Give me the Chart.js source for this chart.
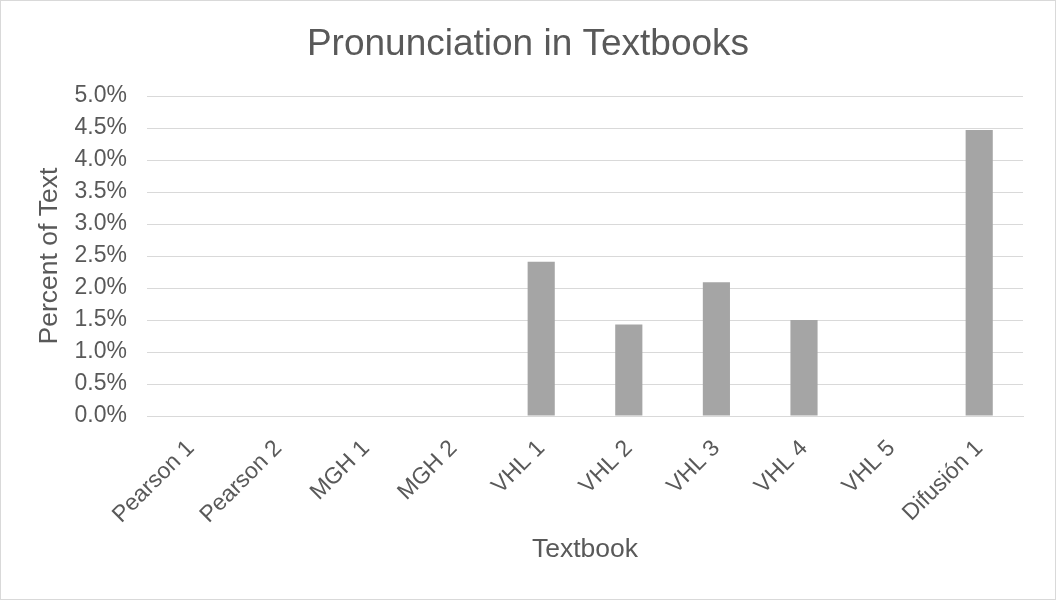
<!DOCTYPE html>
<html>
<head>
<meta charset="utf-8">
<title>Pronunciation in Textbooks</title>
<script src="https://cdn.jsdelivr.net/npm/chart.js@4.4.1/dist/chart.umd.min.js"></script>
<style>
    html, body { margin: 0; padding: 0; background: #ffffff; }
    #wrap { width: 1056px; height: 600px; position: relative; }
</style>
</head>
<body>
<div id="wrap"><canvas id="myChart"></canvas></div>
<script>
// Textbook categories along the x axis
const textbooks = ["Pearson 1", "Pearson 2", "MGH 1", "MGH 2", "VHL 1", "VHL 2", "VHL 3", "VHL 4", "VHL 5", "Difusión 1"];

// Share of each textbook spent on pronunciation, in percent
const percentOfText = [0, 0, 0, 0, 2.41, 1.43, 2.09, 1.50, 0, 4.47];

// y axis range and step, in percent
const yMin = 0;
const yMax = 5;
const yStep = 0.5;

const textColor = "#595959";
const gridColor = "#d9d9d9";
const barColor = "#a5a5a5";
const fontFamily = "'Liberation Sans', Arial, sans-serif";

/**
 * Draws the thin light grey frame around the whole chart, like an Excel chart area.
 */
const chartFrame = {
    id: "chartFrame",
    afterDraw(chart) {
        const ctx = chart.ctx;
        ctx.save();
        ctx.strokeStyle = gridColor;
        ctx.lineWidth = 1;
        ctx.strokeRect(0.5, 0.5, chart.width - 1, chart.height - 1);
        ctx.restore();
    }
};

const ctx = document.getElementById("myChart").getContext("2d");

new Chart(ctx, {
    type: "bar",
    data: {
        labels: textbooks,
        datasets: [
            {
                label: "Percent of Text",
                data: percentOfText,
                backgroundColor: barColor,
                borderWidth: 0,
                barPercentage: 0.31,
                categoryPercentage: 1,
            },
        ],
    },
    options: {
        responsive: true,
        maintainAspectRatio: false,
        animation: false,
        layout: {
            padding: 0,
        },
        scales: {
            y: {
                min: yMin,
                max: yMax,
                border: { display: false },
                grid: { color: gridColor, drawTicks: false },
                ticks: {
                    stepSize: yStep,
                    padding: 20,
                    color: textColor,
                    font: { size: 23, family: fontFamily },
                    callback: (value) => value.toFixed(1) + "%",
                },
                title: {
                    display: true,
                    text: "Percent of Text",
                    color: textColor,
                    font: { size: 26.5, family: fontFamily },
                    padding: { top: 34, bottom: 0 },
                },
                afterFit(scale) {
                    scale.width = 147;
                },
            },
            // empty right-hand margin so the title stays centred on the whole chart
            margin: {
                position: "right",
                display: true,
                border: { display: false },
                grid: { display: false, drawTicks: false },
                ticks: { display: false },
                afterFit(scale) {
                    scale.width = 33;
                },
            },
            x: {
                border: { display: true, color: gridColor },
                grid: { display: false, drawTicks: false },
                ticks: {
                    minRotation: 45,
                    maxRotation: 45,
                    padding: 19,
                    color: textColor,
                    font: { size: 23, family: fontFamily },
                },
                title: {
                    display: true,
                    text: "Textbook",
                    color: textColor,
                    font: { size: 26.5, family: fontFamily },
                    padding: { top: 0, bottom: 34 },
                },
                afterFit(scale) {
                    scale.height = 184;
                },
            },
        },
        plugins: {
            legend: { display: false },
            tooltip: { enabled: false },
            title: {
                display: true,
                text: "Pronunciation in Textbooks",
                color: textColor,
                font: { size: 37, weight: "normal", family: fontFamily },
                padding: { top: 23, bottom: 28.6 },
            },
        },
    },
    plugins: [chartFrame],
});
</script>
</body>
</html>
